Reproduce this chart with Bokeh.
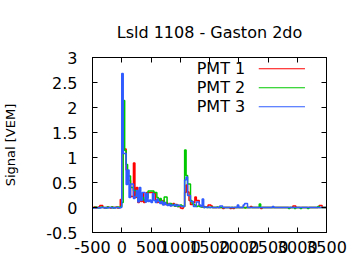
import numpy as np
from bokeh.plotting import figure
from bokeh.models import FixedTicker, LinearAxis
from bokeh.core.properties import value
from bokeh.embed import file_html
from bokeh.resources import INLINE

title_text = "Lsld 1108 - Gaston 2do"
y_label_text = "Signal [VEM]"
series_names = ["PMT 1", "PMT 2", "PMT 3"]
series_colors = ["#ff0000", "#00c800", "#2f5bff"]

x_ticks = [-500, 0, 500, 1000, 1500, 2000, 2500, 3000, 3500]
x_tick_labels = ["-500", "0", "500", "1000", "1500", "2000", "2500", "3000", "3500"]
y_ticks = [-0.5, 0, 0.5, 1, 1.5, 2, 2.5, 3]
y_tick_labels = ["-0.5", "0", "0.5", "1", "1.5", "2", "2.5", "3"]

# time grid of the traces (ns): bins of 25 ns starting at -500
t_start = -500
t_step = 25

pmt1 = [
    0.00, 0.01, -0.01, 0.00, 0.01, 0.04, 0.04, 0.00, -0.01, 0.00, 0.01, 0.00, -0.01, 0.01, 0.00, 0.00, 0.01, -0.01, 0.00, 0.16,
    2.04, 1.17, 1.17, 0.75, 0.54, 0.54, 0.22, 0.22, 0.89, 0.20, 0.40, 0.10, 0.25, 0.12, 0.28, 0.10, 0.15, 0.30, 0.30, 0.30,
    0.30, 0.30, 0.28, 0.15, 0.10, 0.15, 0.12, 0.08, 0.14, 0.06, 0.10, 0.05, 0.08, 0.04, 0.06, 0.08, 0.03, 0.06, 0.02, 0.04,
    -0.01, -0.02, 0.02, 0.30, 0.45, 0.31, 0.14, 0.06, 0.06, 0.10, 0.21, 0.14, 0.14, 0.03, 0.02, 0.01, 0.02, 0.01, 0.01, 0.05,
    0.05, 0.03, 0.00, 0.00, 0.00, 0.00, 0.00, 0.00, 0.00, -0.02, 0.00, 0.00, 0.00, 0.00, -0.02, 0.00, -0.02, 0.00, 0.00, 0.00,
    0.00, 0.00, 0.00, 0.00, 0.00, 0.00, 0.00, 0.00, 0.02, 0.00, 0.00, 0.00, 0.00, 0.00, 0.00, -0.02, 0.00, 0.00, 0.00, 0.00,
    0.00, 0.00, 0.00, 0.00, 0.00, 0.00, 0.00, 0.00, 0.00, 0.00, 0.00, 0.00, 0.00, 0.00, 0.00, 0.00, 0.00, 0.03, 0.03, 0.00,
    0.00, 0.00, 0.00, 0.00, 0.00, 0.00, 0.00, 0.00, 0.00, 0.00, 0.00, 0.00, 0.00, 0.00, 0.00, 0.04, 0.04, 0.00, 0.00, 0.00,
]
pmt2 = [
    -0.01, 0.00, 0.01, 0.00, -0.01, 0.00, 0.01, 0.00, 0.00, -0.01, 0.01, 0.00, 0.00, 0.01, -0.01, 0.00, 0.00, 0.01, 0.00, 0.02,
    0.10, 2.14, 1.14, 0.86, 0.63, 0.63, 0.40, 0.40, 0.34, 0.34, 0.22, 0.15, 0.25, 0.18, 0.20, 0.15, 0.12, 0.20, 0.33, 0.33,
    0.33, 0.33, 0.30, 0.30, 0.20, 0.14, 0.18, 0.10, 0.12, 0.21, 0.21, 0.06, 0.05, 0.08, 0.04, 0.06, 0.03, 0.05, 0.02, 0.03,
    0.05, 0.03, 0.02, 1.15, 0.64, 0.47, 0.47, 0.14, 0.08, 0.06, 0.04, 0.02, 0.03, 0.02, 0.01, 0.02, 0.00, 0.01, 0.00, 0.00,
    0.00, 0.01, 0.00, 0.00, 0.00, 0.01, 0.00, 0.00, 0.00, 0.00, 0.00, 0.00, 0.00, 0.00, 0.00, 0.00, 0.00, 0.00, 0.00, 0.00,
    0.00, 0.00, 0.00, 0.00, -0.01, 0.00, 0.00, 0.00, 0.00, 0.00, 0.00, 0.00, 0.00, 0.00, 0.07, 0.00, 0.00, 0.00, 0.00, 0.00,
    0.00, 0.00, 0.00, 0.00, 0.00, 0.00, 0.00, 0.00, 0.00, 0.00, 0.00, 0.00, 0.00, 0.00, -0.02, 0.00, 0.00, 0.00, -0.02, 0.00,
    0.00, 0.00, -0.02, 0.00, 0.00, 0.00, 0.00, -0.02, 0.00, 0.00, 0.00, 0.00, 0.00, 0.00, 0.02, 0.00, 0.00, 0.00, 0.00, 0.00,
]
pmt3 = [
    -0.01, -0.01, 0.00, -0.01, 0.00, -0.01, 0.00, 0.00, -0.01, 0.00, -0.01, 0.00, 0.00, -0.01, 0.00, -0.01, 0.00, 0.00, -0.01, 0.00,
    2.68, 1.08, 1.08, 0.46, 0.75, 0.20, 0.47, 0.47, 0.18, 0.22, 0.34, 0.11, 0.40, 0.14, 0.30, 0.30, 0.11, 0.28, 0.12, 0.15,
    0.10, 0.28, 0.14, 0.10, 0.17, 0.12, 0.08, 0.12, 0.05, 0.10, 0.06, 0.04, 0.07, 0.03, 0.05, 0.04, 0.06, 0.03, 0.05, 0.04,
    0.03, 0.02, 0.02, 0.55, 0.61, 0.24, 0.24, 0.12, 0.12, 0.02, 0.02, 0.11, 0.11, 0.05, 0.02, 0.17, 0.00, 0.01, 0.00, 0.01,
    0.00, 0.00, 0.00, 0.00, 0.00, 0.00, 0.00, 0.03, 0.03, 0.00, 0.00, 0.00, 0.00, 0.00, 0.00, 0.00, 0.00, 0.00, 0.00, 0.05,
    0.00, 0.00, 0.00, 0.05, 0.08, 0.08, 0.00, 0.00, 0.00, 0.00, 0.00, 0.00, 0.00, 0.00, 0.00, 0.00, 0.00, 0.00, 0.00, 0.00,
    0.00, 0.00, 0.00, 0.02, 0.00, 0.00, 0.00, 0.00, 0.00, 0.00, 0.00, 0.00, 0.00, 0.00, 0.00, 0.00, 0.00, 0.00, 0.00, 0.00,
    0.00, 0.00, 0.00, 0.00, 0.00, 0.00, 0.00, 0.00, 0.00, 0.00, 0.00, 0.00, 0.00, 0.00, 0.00, 0.00, 0.00, 0.00, 0.00, 0.00,
]

FONT = "DejaVu Sans"

p = figure(width=360, height=270, x_range=(-500, 3500), y_range=(-0.5, 3),
           output_backend="svg", toolbar_location=None,
           min_border_left=90, min_border_right=34, min_border_top=57, min_border_bottom=38)
p.grid.visible = False
p.outline_line_color = "black"
p.outline_line_width = 1
p.background_fill_color = "white"
p.border_fill_color = "white"

p.title.text = title_text
p.title.align = "center"
p.title.text_font = FONT
p.title.text_font_size = "16px"
p.title.text_font_style = "normal"
p.title.text_color = "#000000"
p.title.standoff = 31


def style_axis(ax, ticks, labels, standoff):
    ax.ticker = FixedTicker(ticks=ticks)
    ax.major_label_overrides = {float(t): l for t, l in zip(ticks, labels)}
    ax.major_tick_in = 5
    ax.major_tick_out = 0
    ax.minor_tick_line_color = None
    ax.axis_line_color = "black"
    ax.major_tick_line_color = "black"
    ax.major_label_text_font = FONT
    ax.major_label_text_font_size = "16px"
    ax.major_label_text_color = "#000000"
    ax.major_label_standoff = standoff


style_axis(p.xaxis[0], x_ticks, x_tick_labels, 8)
style_axis(p.yaxis[0], y_ticks, y_tick_labels, 15)
p.yaxis[0].axis_label = y_label_text
p.yaxis[0].axis_label_text_font = FONT
p.yaxis[0].axis_label_text_font_size = "13px"
p.yaxis[0].axis_label_text_font_style = "normal"
p.yaxis[0].axis_label_text_color = "#000000"
p.yaxis[0].axis_label_standoff = 25

top_axis = LinearAxis()
style_axis(top_axis, x_ticks, [""] * len(x_ticks), 0)
p.add_layout(top_axis, "above")
right_axis = LinearAxis()
style_axis(right_axis, y_ticks, [""] * len(y_ticks), 0)
p.add_layout(right_axis, "right")

n = len(pmt1)
times = t_start + t_step * np.arange(n + 1)
for vals, color in zip([pmt1, pmt2, pmt3], series_colors):
    yv = list(vals) + [vals[-1]]
    p.step(x=times, y=yv, mode="after", line_color=color, line_width=1.5)

# legend (text then sample line, as in the reference)
leg_text_x = [2110, 2110, 2110]
leg_y = [2.79, 2.41, 2.03]
p.text(x=leg_text_x, y=leg_y, text=series_names, text_align="right",
       text_baseline="middle", text_font=value(FONT), text_font_size="16px",
       text_color="#000000")
p.segment(x0=[2342] * 3, y0=[y - 0.015 for y in leg_y], x1=[3132] * 3,
          y1=[y - 0.015 for y in leg_y], line_color=series_colors, line_width=1)

open("out.html", "w").write(file_html(p, INLINE))
